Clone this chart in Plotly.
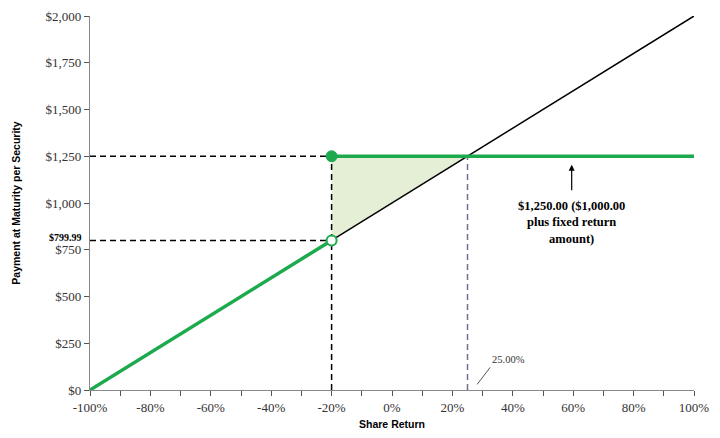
import plotly.graph_objects as go

# Data
share_return_low = [-100, -20]          # %
payment_low = [0, 799.99]
share_return_cap = [-20, 100]
payment_cap = [1250, 1250]
share_return_full = [-20, 100]
payment_full = [800, 2000]
fill_x = [-20, -20, 25, -20]
fill_y = [800, 1250, 1250, 800]
strike_return = -20
strike_payment = 799.99
cap_payment = 1250
breakeven_return = 25
x_ticks = [-100, -80, -60, -40, -20, 0, 20, 40, 60, 80, 100]
x_labels = ["-100%", "-80%", "-60%", "-40%", "-20%", "0%", "20%", "40%", "60%", "80%", "100%"]
y_ticks = [0, 250, 500, 750, 1000, 1250, 1500, 1750, 2000]
y_labels = ["$0", "$250", "$500", "$750", "$1,000", "$1,250", "$1,500", "$1,750", "$2,000"]

GREEN = "#1DAA4F"
SERIF = "Liberation Serif, Times New Roman, serif"
SANS = "Liberation Sans, Arial, sans-serif"

fig = go.Figure()

# shaded triangle
fig.add_trace(go.Scatter(x=fill_x, y=fill_y, fill="toself", fillcolor="#E4EFD6",
                         line=dict(width=0), mode="lines", hoverinfo="skip", showlegend=False))
# dashed guide lines
fig.add_trace(go.Scatter(x=[-100, strike_return], y=[cap_payment, cap_payment], mode="lines",
                         line=dict(color="black", width=1.5, dash="6px,4px"), showlegend=False))
fig.add_trace(go.Scatter(x=[-100, strike_return], y=[strike_payment, strike_payment], mode="lines",
                         line=dict(color="black", width=1.5, dash="6px,4px"), showlegend=False))
fig.add_trace(go.Scatter(x=[strike_return, strike_return], y=[0, cap_payment], mode="lines",
                         line=dict(color="black", width=1.5, dash="6px,4px"), showlegend=False))
fig.add_trace(go.Scatter(x=[breakeven_return, breakeven_return], y=[0, cap_payment], mode="lines",
                         line=dict(color="#6B7091", width=1.5, dash="6px,4px"), showlegend=False))
# black 1:1 line
fig.add_trace(go.Scatter(x=share_return_full, y=payment_full, mode="lines",
                         line=dict(color="black", width=1.5), showlegend=False))
# green payoff lines
fig.add_trace(go.Scatter(x=share_return_low, y=payment_low, mode="lines",
                         line=dict(color=GREEN, width=3.5), showlegend=False))
fig.add_trace(go.Scatter(x=share_return_cap, y=payment_cap, mode="lines",
                         line=dict(color=GREEN, width=3.5), showlegend=False))
# markers
fig.add_trace(go.Scatter(x=[strike_return], y=[cap_payment], mode="markers",
                         marker=dict(color=GREEN, size=11, line=dict(color=GREEN, width=1)), showlegend=False))
fig.add_trace(go.Scatter(x=[strike_return], y=[strike_payment], mode="markers",
                         marker=dict(color="white", size=10, line=dict(color=GREEN, width=2)), showlegend=False))

annotations = [
    dict(x=59.5, y=1205, xref="x", yref="y", ax=59.5, ay=1060, axref="x", ayref="y",
         showarrow=True, arrowhead=2, arrowsize=1, arrowwidth=1.2, arrowcolor="black", text=""),
    dict(x=59.5, y=1030, xref="x", yref="y", yanchor="top", showarrow=False,
         text="<b>$1,250.00 ($1,000.00<br>plus fixed return<br>amount)</b>",
         font=dict(family=SERIF, size=12.5, color="black"), align="center"),
    dict(x=28.2, y=30, xref="x", yref="y", ax=13, ay=-17, showarrow=True, arrowhead=0,
         arrowwidth=1, arrowcolor="#555", text="25.00%", xanchor="left", yanchor="bottom",
         font=dict(family=SERIF, size=10.5, color="#333")),
    dict(x=0, y=strike_payment, xref="paper", yref="y", xanchor="right", yanchor="middle",
         xshift=-6, yshift=3, showarrow=False, text="<b>$799.99</b>",
         font=dict(family=SERIF, size=10, color="black")),
]

fig.update_layout(
    width=712, height=430,
    margin=dict(l=82, r=26, t=8, b=48),
    plot_bgcolor="white", paper_bgcolor="white",
    showlegend=False,
    annotations=annotations,
    xaxis=dict(range=[-100, 100], tickvals=x_ticks, ticktext=x_labels, automargin=False,
               ticklabeloverflow="allow",
               showgrid=False, zeroline=False, showline=True, linecolor="#888", linewidth=1.3,
               ticks="outside", ticklen=5, tickcolor="#555",
               minor=dict(ticks="outside", dtick=10, ticklen=5, tickcolor="#555"),
               tickfont=dict(family=SERIF, size=13, color="#333"),
               title=dict(text="<b>Share Return</b>", font=dict(family=SANS, size=10.5, color="black"),
                          standoff=6)),
    yaxis=dict(range=[0, 2000], tickvals=y_ticks, ticktext=y_labels, automargin=False,
               ticklabeloverflow="allow",
               showgrid=False, zeroline=False, showline=True, linecolor="#888", linewidth=1.3,
               ticks="outside", ticklen=5, tickcolor="#555",
               tickfont=dict(family=SERIF, size=13, color="#333"),
               title=dict(text="<b>Payment at Maturity per Security</b>",
                          font=dict(family=SANS, size=10.5, color="black"), standoff=22)),
)

fig.write_html("out.html")
